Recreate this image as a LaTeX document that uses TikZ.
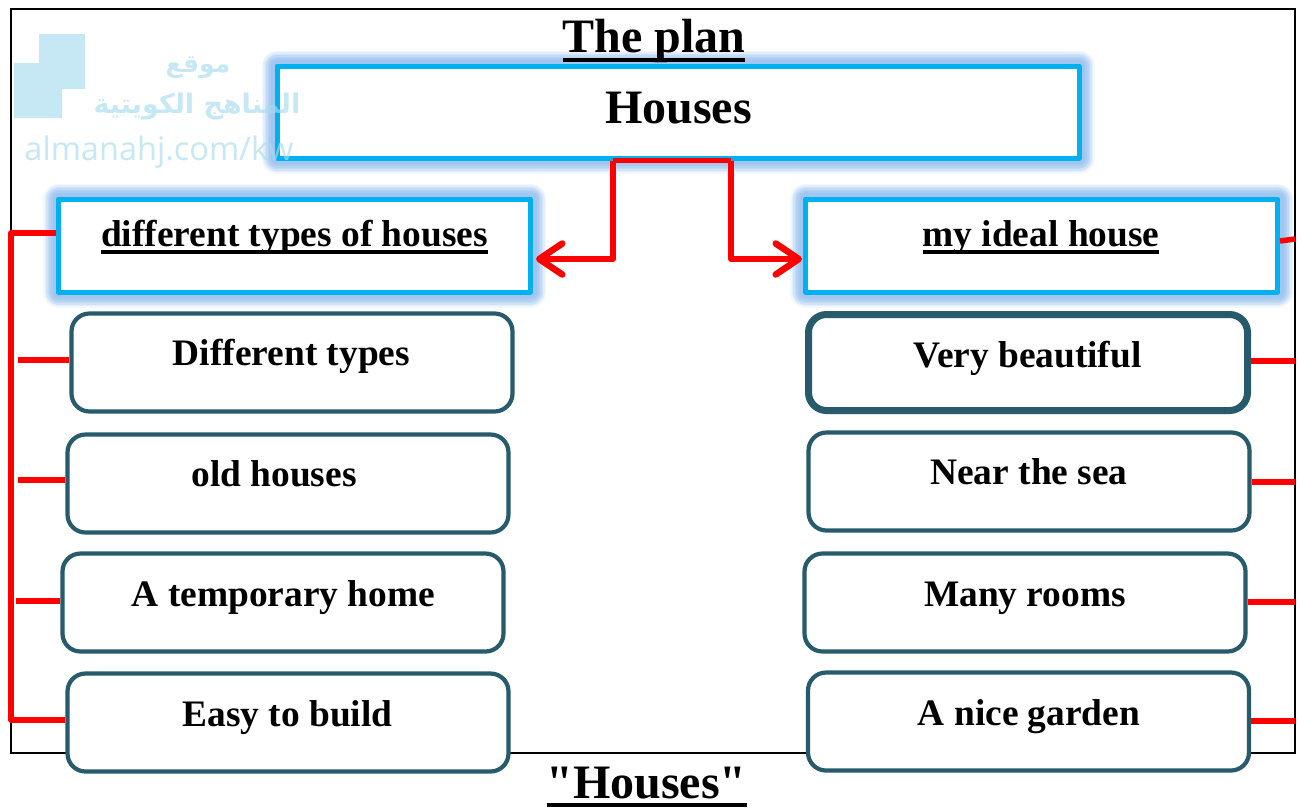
\documentclass[tikz,border=0pt]{standalone}
\usepackage{fontspec}
\setmainfont{Liberation Serif}
\newfontfamily\qfont{Liberation Serif}
\newfontfamily\wmfont{Open Sans}
\newfontfamily\arabicfont[Script=Arabic]{DejaVu Sans}
\TeXXeTstate=1
\usetikzlibrary{arrows.meta}
\definecolor{cyanbox}{HTML}{00B0F0}
\definecolor{tealbox}{HTML}{275B6B}
\definecolor{glowblue}{HTML}{8FBBEE}
\definecolor{wmblue}{HTML}{A8DDF0}
\newcommand{\ulbar}[3]{\setbox0=\hbox{#1}\leavevmode\rlap{\rule[-#2]{\wd0}{#3}}\box0}
\tikzset{
  x=1pt,y=-1pt,
  glowbox/.style={draw=cyanbox,fill=white,line width=5pt,rectangle,inner sep=0pt,line join=round,
    preaction={draw=glowblue,line width=31pt,opacity=.10,line join=round},
    preaction={draw=glowblue,line width=28pt,opacity=.16,line join=round},
    preaction={draw=glowblue,line width=25pt,opacity=.20,line join=round},
    preaction={draw=glowblue,line width=22pt,opacity=.22,line join=round},
    preaction={draw=glowblue,line width=19pt,opacity=.25,line join=round},
    preaction={draw=glowblue,line width=16pt,opacity=.30,line join=round},
    preaction={draw=glowblue,line width=12pt,opacity=.30,line join=round}},
  tealrbox/.style={draw=tealbox,fill=white,line width=4.2pt,rectangle,rounded corners=18pt,inner sep=0pt,
    minimum width=441pt,minimum height=98pt},
  thick teal/.style={line width=7pt},
  redline/.style={draw=red,line width=5.5pt,line join=round},
  redarrow/.style={redline,-{Straight Barb[length=23pt,width=31pt,line width=6.5pt,round]}},
  txt/.style={anchor=base,inner sep=0pt,font=\bfseries\fontsize{37.4}{38}\selectfont},
  big/.style={anchor=base,inner sep=0pt,font=\bfseries\fontsize{48}{48}\selectfont},
  wm/.style={text=wmblue,opacity=.65,inner sep=0pt,anchor=center},
}
\begin{document}
\begin{tikzpicture}
\useasboundingbox (0,0) rectangle (1300,807);
\fill[white] (0,0) rectangle (1300,807);
\draw[black,line width=2pt] (11,9) rectangle (1295,753);
% boxes
\node[glowbox,minimum width=802pt,minimum height=92pt] (top) at (678,112) {};
\node[glowbox,minimum width=472pt,minimum height=93pt] (diff) at (294.5,245.5) {};
\node[glowbox,minimum width=472pt,minimum height=93pt] (ideal) at (1041.5,245.5) {};
\node[tealrbox] (l1) at (292,362.5) {};
\node[tealrbox] (l2) at (288,483.5) {};
\node[tealrbox] (l3) at (283,602.5) {};
\node[tealrbox] (l4) at (288,722.5) {};
\node[tealrbox,thick teal,minimum width=439pt,minimum height=96pt] (r1) at (1028,362.5) {};
\node[tealrbox] (r2) at (1029,481.5) {};
\node[tealrbox] (r3) at (1025,602.5) {};
\node[tealrbox] (r4) at (1028.5,721.5) {};
% connectors
\draw[redline] ([xshift=-65pt]top.south) -- ([xshift=53pt]top.south);
\draw[redarrow] ([xshift=-65pt]top.south) |- ([xshift=3pt,yshift=-13.5pt]diff.east);
\draw[redarrow] ([xshift=53pt]top.south) |- ([xshift=-1pt,yshift=-13.5pt]ideal.west);
\coordinate (trunkT) at (11,233);
\coordinate (trunkB) at (11,720);
\draw[redline] ([yshift=12.5pt]diff.west) -- (trunkT) -- (trunkB) -- ([yshift=2.5pt]l4.west);
\coordinate (s1) at (18,360);
\coordinate (s2) at (18,480);
\coordinate (s3) at (16,601);
\draw[redline] (s1) -- ([yshift=2.5pt]l1.west);
\draw[redline] (s2) -- ([yshift=3.5pt]l2.west);
\draw[redline] (s3) -- ([yshift=1.5pt]l3.west);
\coordinate (e0) at (1295,239);
\coordinate (e1) at (1295,361);
\coordinate (e2) at (1295,482);
\coordinate (e3) at (1295,602);
\coordinate (e4) at (1295,721);
\draw[redline] ([yshift=4.5pt]ideal.east) -- (e0);
\draw[redline] ([yshift=1.5pt]r1.east) -- (e1);
\draw[redline] ([yshift=-.5pt]r2.east) -- (e2);
\draw[redline] ([yshift=.5pt]r3.east) -- (e3);
\draw[redline] ([yshift=.5pt]r4.east) -- (e4);
% watermark
\fill[wmblue,opacity=.65] (39,34) -- (85,34) -- (85,89) -- (62,89) -- (62,118) -- (14,118) -- (14,63) -- (39,63) -- cycle;
\node[wm,font=\arabicfont\bfseries\fontsize{25}{25}\selectfont] (wm1) at (198,68) {\beginR موقع\endR};
\node[wm,font=\arabicfont\bfseries\fontsize{27}{27}\selectfont] (wm2) at (197,107) {\beginR المناهج الكويتية\endR};
\node[wm,font=\wmfont\fontsize{32.5}{33}\selectfont] (wm3) at (159,152) {almanahj.com/kw};
% text
\node[big] (tplan) at (654,52) {\ulbar{The plan}{10pt}{4pt}};
\node[big] (thouses) at (678.5,123) {Houses};
\node[big] (tfoot) at (646.5,798) {\ulbar{\qfont\bfseries"Houses"}{9pt}{4pt}};
\node[txt] (tdiff) at (294.5,246) {\ulbar{different types of houses}{8pt}{4pt}};
\node[txt] (tideal) at (1041,246) {\ulbar{my ideal house}{8pt}{4pt}};
\node[txt] (tl1) at (291.5,365) {Different types};
\node[txt] (tl2) at (274,486) {old houses};
\node[txt] (tl3) at (283.5,606) {A temporary home};
\node[txt] (tl4) at (287.5,726) {Easy to build};
\node[txt] (tr1) at (1027.5,367) {Very beautiful};
\node[txt] (tr2) at (1029,484) {Near the sea};
\node[txt] (tr3) at (1025,606) {Many rooms};
\node[txt] (tr4) at (1029,725) {A nice garden};
\end{tikzpicture}
\end{document}
